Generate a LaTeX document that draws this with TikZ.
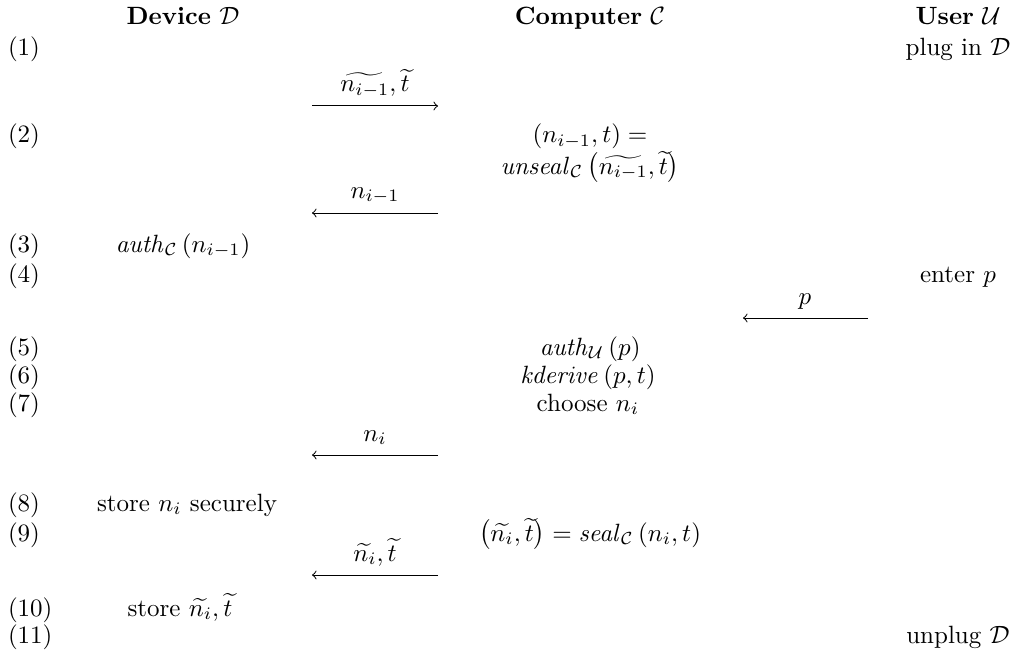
\documentclass[tikz,border=0pt]{standalone}
\usepackage{amsmath}
\begin{document}
\begin{tikzpicture}[x=0.4pt,y=-0.4pt,
  txt/.style={anchor=base,inner sep=0pt,outer sep=0pt},
  num/.style={anchor=base west,inner sep=0pt,outer sep=0pt},
  lbl/.style={anchor=base,inner sep=0pt,outer sep=0pt},
  msg/.style={->,line width=0.4pt}]
\useasboundingbox (0,0) rectangle (1018,659);
% headers
\node[txt] (hD) at (183,25) {\textbf{Device} $\mathcal{D}$};
\node[txt] (hC) at (590,25) {\textbf{Computer} $\mathcal{C}$};
\node[txt] (hU) at (958,25) {\textbf{User} $\mathcal{U}$};
% step numbers
\node[num] (s1) at (8,56) {(1)};
\node[num] (s2) at (8,143) {(2)};
\node[num] (s3) at (8,252) {(3)};
\node[num] (s4) at (8,282) {(4)};
\node[num] (s5) at (8,355) {(5)};
\node[num] (s6) at (8,383) {(6)};
\node[num] (s7) at (8,411) {(7)};
\node[num] (s8) at (8,511) {(8)};
\node[num] (s9) at (8,541) {(9)};
\node[num] (s10) at (8,616) {(10)};
\node[num] (s11) at (8,643) {(11)};
% user column
\node[txt] (u1) at (958,56) {plug in $\mathcal{D}$};
\node[txt] (u4) at (958,282) {enter $p$};
\node[txt] (u11) at (958,643) {unplug $\mathcal{D}$};
% computer column
\node[txt] (c2a) at (590,143) {$(n_{i-1},t) =$};
\node[txt] (c2b) at (590,174) {$\mathit{unseal}_{\mathcal{C}}\left(\widetilde{n_{i-1}},\widetilde{t}\right)$};
\node[txt] (c5) at (590,355) {$\mathit{auth}_{\mathcal{U}}\left(p\right)$};
\node[txt] (c6) at (588,383) {$\mathit{kderive}\left(p,t\right)$};
\node[txt] (c7) at (588,411) {choose $n_i$};
\node[txt] (c9) at (590,541) {$\left(\widetilde{n_i},\widetilde{t}\right) = \mathit{seal}_{\mathcal{C}}\left(n_i,t\right)$};
% device column
\node[txt] (d3) at (183,252) {$\mathit{auth}_{\mathcal{C}}\left(n_{i-1}\right)$};
\node[txt] (d8) at (187,511) {store $n_i$ securely};
\node[txt] (d10) at (180,616) {store $\widetilde{n_i},\widetilde{t}$};
% message arrows
\coordinate (m1l) at (312,106); \coordinate (m1r) at (438,106);
\coordinate (m2l) at (312,213); \coordinate (m2r) at (438,213);
\coordinate (mpl) at (743,318); \coordinate (mpr) at (868,318);
\coordinate (m3l) at (312,455); \coordinate (m3r) at (438,455);
\coordinate (m4l) at (312,575); \coordinate (m4r) at (438,575);
\draw[msg] (m1l) -- (m1r);
\draw[msg] (m2r) -- (m2l);
\draw[msg] (mpr) -- (mpl);
\draw[msg] (m3r) -- (m3l);
\draw[msg] (m4r) -- (m4l);
\node[lbl] (l1) at (375,92) {$\widetilde{n_{i-1}},\widetilde{t}$};
\node[lbl] (l2) at (375,198) {$n_{i-1}$};
\node[lbl] (lp) at (805,304) {$p$};
\node[lbl] (l3) at (375,441) {$n_i$};
\node[lbl] (l4) at (375,561) {$\widetilde{n_i},\widetilde{t}$};
\end{tikzpicture}
\end{document}
